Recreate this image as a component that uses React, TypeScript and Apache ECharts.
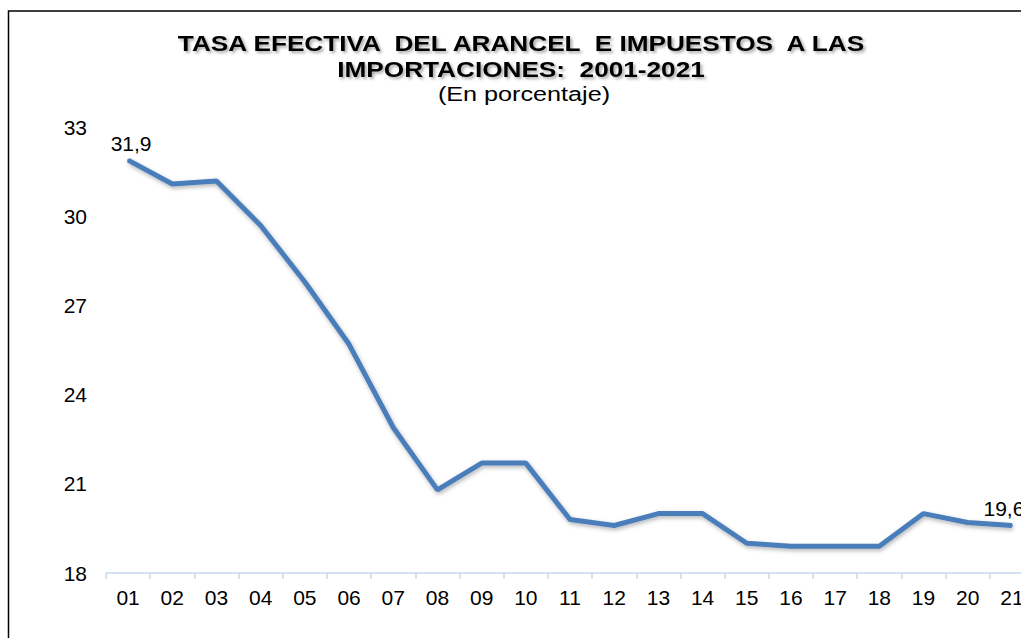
import React, { useEffect, useRef } from "react";
import * as echarts from "echarts";

const years = ["01","02","03","04","05","06","07","08","09","10","11","12","13","14","15","16","17","18","19","20","21"];
const rates = [31.9, 31.1, 31.2, 29.7, 27.8, 25.7, 22.9, 20.8, 21.7, 21.7, 19.8, 19.6, 20.0, 20.0, 19.0, 18.9, 18.9, 18.9, 20.0, 19.7, 19.6];
const yTicks = [18, 21, 24, 27, 30, 33];
const titleLine1 = "TASA EFECTIVA  DEL ARANCEL  E IMPUESTOS  A LAS";
const titleLine2 = "IMPORTACIONES:  2001-2021";
const subtitle = "(En porcentaje)";

const FONT = "'Liberation Sans', Arial, sans-serif";

export default function App() {
  const ref = useRef<HTMLDivElement>(null);
  useEffect(() => {
    if (!ref.current) return;
    document.documentElement.style.overflow = "hidden";
    document.body.style.overflow = "hidden";
    document.body.style.margin = "0";
    const chart = echarts.init(ref.current, undefined, { renderer: "svg" });
    const lastIdx = rates.length - 1;
    const titleStyle = (text: string) => ({
      text,
      font: `bold 22px ${FONT}`,
      textAlign: "center",
      textVerticalAlign: "middle",
      fill: "#000",
      textShadowColor: "rgba(0,0,0,0.35)",
      textShadowBlur: 3,
      textShadowOffsetX: 2,
      textShadowOffsetY: 2,
    });
    chart.setOption({
      animation: false,
      backgroundColor: "#ffffff",
      graphic: [
        {
          type: "rect",
          shape: { x: 8.5, y: 11, width: 1200, height: 800 },
          style: { fill: "none", stroke: "#000", lineWidth: 1.5 },
          silent: true,
        },
        { type: "text", x: 521, y: 43, scaleX: 1.19, style: titleStyle(titleLine1) },
        { type: "text", x: 521, y: 69, scaleX: 1.19, style: titleStyle(titleLine2) },
        {
          type: "text",
          x: 524,
          y: 94,
          scaleX: 1.2,
          style: {
            text: subtitle,
            font: `21px ${FONT}`,
            textAlign: "center",
            textVerticalAlign: "middle",
            fill: "#000",
          },
        },
      ],
      grid: {
        left: 106,
        top: 127.5,
        width: 928,
        height: 445.5,
        containLabel: false,
        outerBoundsMode: "none",
      },
      xAxis: {
        type: "category",
        data: years,
        boundaryGap: true,
        axisLine: { show: true, lineStyle: { color: "#C6D9F1", width: 1.5 } },
        axisTick: { show: true, length: 6, lineStyle: { color: "#C6D9F1", width: 1.5 } },
        axisLabel: { color: "#000", fontSize: 21, fontFamily: FONT, margin: 14, interval: 0 },
        splitLine: { show: false },
      },
      yAxis: {
        type: "value",
        min: yTicks[0],
        max: yTicks[yTicks.length - 1],
        interval: 3,
        axisLine: { show: false },
        axisTick: { show: false },
        splitLine: { show: false },
        axisLabel: { color: "#000", fontSize: 21, fontFamily: FONT, margin: 19 },
      },
      series: [
        {
          type: "line",
          data: rates.map((v, i) => {
            if (i === 0 || i === lastIdx) {
              return {
                value: v,
                label: {
                  show: true,
                  position: "top",
                  distance: 5,
                  offset: i === 0 ? [3, 0] : [-8, 0],
                  color: "#000",
                  fontSize: 21,
                  fontFamily: FONT,
                  formatter: (p: any) => Number(p.value).toFixed(1).replace(".", ","),
                },
              };
            }
            return v;
          }),
          showSymbol: true,
          symbol: "circle",
          symbolSize: 2,
          lineStyle: {
            color: "#4A7EBB",
            width: 5,
            shadowColor: "rgba(0,0,0,0.3)",
            shadowBlur: 4,
            shadowOffsetX: 1,
            shadowOffsetY: 2,
          },
          itemStyle: { color: "#4A7EBB" },
        },
      ],
    });
    return () => chart.dispose();
  }, []);
  return <div ref={ref} style={{ width: 1021, height: 638 }} />;
}
